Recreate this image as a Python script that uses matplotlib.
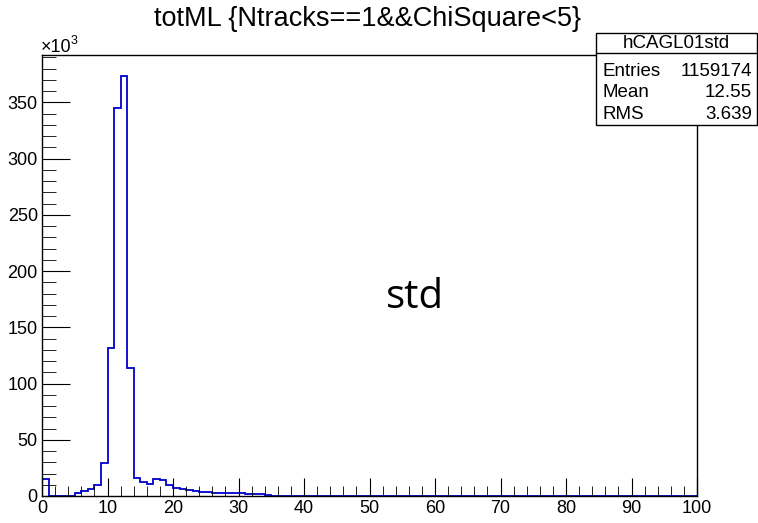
import matplotlib.pyplot as plt
import numpy as np

plt.rcParams['font.family'] = ['Liberation Sans', 'DejaVu Sans']

# histogram contents, thousands of entries per unit bin, 0..100
edges = np.arange(0, 101, 1)
counts = np.zeros(100)
counts[:36] = [15, 0, 0, 0, 0, 2.4, 4.4, 6, 10, 29,
               132, 345, 373, 113.6, 16, 12.4, 11, 15, 14, 10,
               7.4, 6.2, 5.3, 4.7, 4, 3.5, 3, 3, 3, 3,
               2.5, 1.5, 1.5, 1.5, 0.5, 0.3]

hist_name = "hCAGL01std"
stats_labels = ["Entries", "Mean", "RMS"]
stats_values = ["1159174", "12.55", "3.639"]
title = "totML {Ntracks==1&&ChiSquare<5}"

fig = plt.figure(figsize=(7.58, 5.23), dpi=100)
ax = fig.add_axes([42/758, 1-496/523, (697-42)/758, (496-55)/523])

ax.stairs(counts, edges, color="#0000cc", linewidth=1.3)
ax.set_xlim(0, 100)
ax.set_ylim(0, 392)

ax.set_xticks(np.arange(0, 101, 10))
ax.set_xticks(np.arange(0, 101, 2), minor=True)
ax.set_yticks(np.arange(0, 351, 50))
ax.set_yticks(np.arange(0, 391, 10), minor=True)
ax.tick_params(which="both", direction="in", labelsize=13, color="black")
ax.tick_params(axis="x", which="major", length=13, pad=3)
ax.tick_params(axis="x", which="minor", length=7)
ax.tick_params(axis="y", which="major", length=20, pad=3)
ax.tick_params(axis="y", which="minor", length=10)
for s in ax.spines.values():
    s.set_linewidth(1.0)

# exponent label, ROOT style
fig.text(41/758, 1-52/523, "\u00d710", fontsize=13, ha="left", va="baseline")
fig.text(71/758, 1-44/523, "3", fontsize=9, ha="left", va="baseline")
fig.text(368/758, 1-19/523, title, fontsize=19.5, ha="center", va="center")

# stats box
bx0, bx1, by0, by1 = 596/758, 757/758, 1-125/523, 1-33/523
fig.add_artist(plt.Rectangle((bx0, by0), bx1-bx0, by1-by0, transform=fig.transFigure,
                             facecolor="white", edgecolor="black", linewidth=1.0))
sep = 1-53/523
fig.add_artist(plt.Line2D([bx0, bx1], [sep, sep], transform=fig.transFigure,
                          color="black", linewidth=1.0))
fig.text((bx0+bx1)/2, 1-43/523, hist_name, fontsize=13.5, ha="center", va="center")
for i, (lab, val) in enumerate(zip(stats_labels, stats_values)):
    yy = 1-(71+i*21.5)/523
    fig.text(603/758, yy, lab, fontsize=13.5, ha="left", va="center")
    fig.text(752/758, yy, val, fontsize=13.5, ha="right", va="center")

fig.text(415/758, 1-298/523, "std", fontsize=29, ha="center", va="center",
         family=["Open Sans", "DejaVu Sans"])

fig.savefig("out.png", dpi=100)
